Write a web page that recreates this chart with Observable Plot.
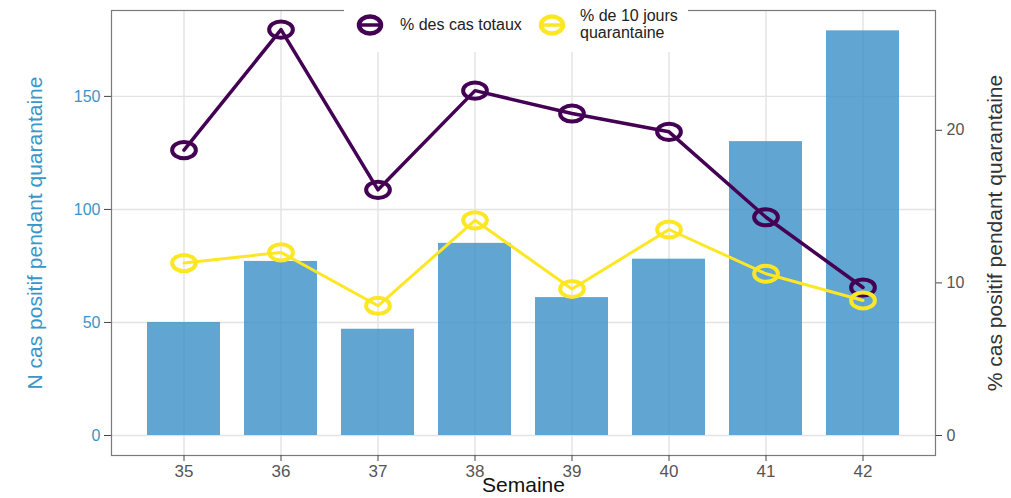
<!DOCTYPE html>
<html><head><meta charset="utf-8">
<script src="https://cdn.jsdelivr.net/npm/d3@7"></script>
<script src="https://cdn.jsdelivr.net/npm/@observablehq/plot@0.6"></script>
<style>
body{margin:0;background:#fff;font-family:"Liberation Sans",Arial,sans-serif;}
#wrap{position:relative;width:1011px;height:498px;}
#legend{position:absolute;left:344px;top:0;width:344px;height:52px;background:#fff;}
</style></head>
<body><div id="wrap"><div id="chart"></div>
<div id="legend"><svg width="344" height="52" style="font-family:'Liberation Sans',Arial,sans-serif"></svg></div></div>
<script>
const weeks = ["35","36","37","38","39","40","41","42"];
const nCases = [50, 77, 47, 85, 61, 78, 130, 179];
const pctTotal = [18.7, 26.6, 16.1, 22.6, 21.1, 19.9, 14.3, 9.7];
const pctTen = [11.3, 12.0, 8.5, 14.1, 9.6, 13.5, 10.6, 8.85];
const leftTicks = [0, 50, 100, 150];
const rightTicks = [0, 10, 20];
const seriesNames = ["% des cas totaux", "% de 10 jours\nquarantaine"];
const seriesColors = ["#440154", "#FDE725"];

const k = 6.75; // right-axis units -> left-axis units
const bars = weeks.map((w,i)=>({week:w, n:nCases[i]}));
const lineA = weeks.map((w,i)=>({week:w, v:pctTotal[i]*k}));
const lineB = weeks.map((w,i)=>({week:w, v:pctTen[i]*k}));

const ellipse = {draw(ctx, size){
  const r = Math.sqrt(size/Math.PI), rx = r*1.25, ry = r*0.85, c = 0.5523;
  ctx.moveTo(rx,0);
  ctx.bezierCurveTo(rx, ry*c, rx*c, ry, 0, ry);
  ctx.bezierCurveTo(-rx*c, ry, -rx, ry*c, -rx, 0);
  ctx.bezierCurveTo(-rx, -ry*c, -rx*c, -ry, 0, -ry);
  ctx.bezierCurveTo(rx*c, -ry, rx, -ry*c, rx, 0);
  ctx.closePath();
}};

const font = "'Liberation Sans', Arial, sans-serif";
const chart = Plot.plot({
  width:1011, height:498,
  marginLeft:111, marginRight:76, marginTop:10, marginBottom:43,
  style:{fontFamily:font, background:"#fff"},
  x:{type:"band", domain:weeks, paddingInner:0.25, paddingOuter:0.37},
  y:{domain:[-8.85, 188]},
  marks:[
    Plot.gridY(leftTicks, {stroke:"#e3e3e3", strokeOpacity:1, strokeWidth:1.4}),
    Plot.gridX(weeks, {stroke:"#e3e3e3", strokeOpacity:1, strokeWidth:1.4}),
    Plot.barY(bars, {x:"week", y:"n", fill:"#3a8fc8", fillOpacity:0.8}),
    Plot.frame({stroke:"#7a7a7a", strokeWidth:1.2}),
    Plot.axisY(leftTicks, {anchor:"left", label:null, tickSize:7, tickPadding:4, fontSize:16, fill:"#3d93c9", stroke:"#444"}),
    Plot.axisY(rightTicks.map(t=>t*k), {anchor:"right", label:null, tickSize:6, tickPadding:5, fontSize:16, fill:"#555", stroke:"#444", tickFormat:d=>String(Math.round(d/k))}),
    Plot.axisX(weeks, {anchor:"bottom", label:null, tickSize:6, tickPadding:3, fontSize:17, fill:"#555", stroke:"#444"}),
    Plot.text(["N cas positif pendant quarantaine"], {frameAnchor:"left", dx:-76, rotate:-90, textAnchor:"middle", fontSize:21, fill:"#3a95c8", fontFamily:font}),
    Plot.text(["% cas positif pendant quarantaine"], {frameAnchor:"right", dx:60, rotate:-90, textAnchor:"middle", fontSize:21, fill:"#333", fontFamily:font}),
    Plot.text(["Semaine"], {frameAnchor:"bottom", dy:36, fontSize:21, fill:"#111", fontFamily:font}),
    Plot.line(lineA, {x:"week", y:"v", stroke:seriesColors[0], strokeWidth:3.5}),
    Plot.dot(lineA, {x:"week", y:"v", stroke:seriesColors[0], strokeWidth:4, r:9.5, symbol:ellipse, fill:"none"}),
    Plot.line(lineB, {x:"week", y:"v", stroke:seriesColors[1], strokeWidth:3}),
    Plot.dot(lineB, {x:"week", y:"v", stroke:seriesColors[1], strokeWidth:4, r:9.5, symbol:ellipse, fill:"none"})
  ]
});
document.getElementById("chart").appendChild(chart);

// legend
const svg = d3.select("#legend svg");
const items = [{x:26, tx:56}, {x:208, tx:236}];
items.forEach((it,i)=>{
  const g = svg.append("g");
  g.append("ellipse").attr("cx",it.x).attr("cy",25).attr("rx",11).attr("ry",8.5)
    .attr("fill","none").attr("stroke",seriesColors[i]).attr("stroke-width",4.5);
  g.append("line").attr("x1",it.x-11).attr("x2",it.x+11).attr("y1",25).attr("y2",25)
    .attr("stroke",seriesColors[i]).attr("stroke-width",3.5);
  const lines = seriesNames[i].split("\n");
  const t = g.append("text").attr("x",it.tx).attr("font-size",16).attr("fill","#222");
  if(lines.length===1){
    t.attr("y",30).text(lines[0]);
  } else {
    lines.forEach((l,j)=>t.append("tspan").attr("x",it.tx).attr("y",21+j*17).text(l));
  }
});
</script></body></html>
